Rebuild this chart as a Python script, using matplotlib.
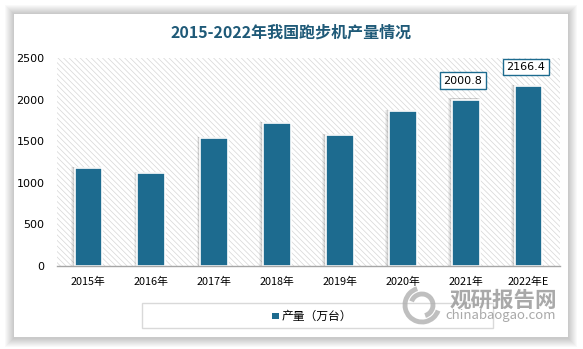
import matplotlib.pyplot as plt
from matplotlib.patches import Rectangle, Arc
import numpy as np

plt.rcParams['font.family'] = ['Noto Sans CJK SC', 'DejaVu Sans']
plt.rcParams['hatch.linewidth'] = 0.5

# Data.
years = ['2015年', '2016年', '2017年', '2018年', '2019年', '2020年', '2021年', '2022年E']
output = [1174, 1114, 1535, 1715, 1571, 1867, 2000.8, 2166.4]
labelled = [6, 7]
yticks = [0, 500, 1000, 1500, 2000, 2500]

W, H = 583, 349
barColor = '#1d6b8f'
titleColor = '#1f5a78'

fig = plt.figure(figsize=(W / 100, H / 100), dpi=100)
fig.patch.set_facecolor('white')

# Card with a soft shadow.
cx0, cy0, cx1, cy1 = 14, 14, 568, 337
for d in range(9, 0, -1):
    fig.patches.append(Rectangle(((cx0 - d) / W, 1 - (cy1 + d + 1) / H),
                                 (cx1 - cx0 + 2 * d) / W,
                                 (cy1 - cy0 + 2 * d + 1) / H,
                                 transform=fig.transFigure, facecolor='black',
                                 alpha=0.022, linewidth=0, zorder=-3))
fig.patches.append(Rectangle((cx0 / W, 1 - cy1 / H), (cx1 - cx0) / W,
                             (cy1 - cy0) / H, transform=fig.transFigure,
                             facecolor='white', linewidth=0, zorder=-2))

fig.text(291 / W, 1 - 33 / H, '2015-2022年我国跑步机产量情况', ha='center',
         va='center', fontsize=11.5, fontweight='bold', color=titleColor)

ax = fig.add_axes([57 / W, 1 - 266 / H, (560 - 57) / W, (266 - 58) / H])
ax.set_facecolor('none')
ax.add_patch(Rectangle((0, 0), 1, 1, transform=ax.transAxes, facecolor='white',
                       edgecolor='#d6d6d6', hatch='\\' * 6, linewidth=0,
                       zorder=0))

x = np.arange(len(years))
bw = 0.44
# Soft shadow behind bars.
for off, a in [(0.045, 0.05), (0.03, 0.06), (0.015, 0.07)]:
    ax.bar(x - off, np.array(output) + 14, width=bw + 0.03, color='black',
           alpha=a, linewidth=0, zorder=1)
ax.bar(x, output, width=bw, color=barColor, edgecolor='white', linewidth=1.2,
       zorder=2)

for i in labelled:
    ax.annotate(f'{output[i]:.1f}', (x[i], output[i]), xytext=(-2, 10),
                textcoords='offset points', ha='center', va='bottom',
                fontsize=8, family='DejaVu Sans', color='black',
                bbox=dict(boxstyle='square,pad=0.3', facecolor='white',
                          edgecolor=barColor, linewidth=1.0), zorder=5)

ax.set_xlim(-0.5, len(years) - 0.5)
ax.set_ylim(0, 2500)
ax.set_xticks(x)
ax.set_xticklabels(years, fontsize=7.8)
ax.set_yticks(yticks)
ax.set_yticklabels([str(v) for v in yticks], fontsize=8, family='DejaVu Sans')
ax.tick_params(length=0)
ax.tick_params(axis='x', pad=8)
ax.tick_params(axis='y', pad=9)
for s in ['top', 'right', 'left']:
    ax.spines[s].set_visible(False)
ax.spines['bottom'].set_color('#a6a6a6')
ax.spines['bottom'].set_linewidth(1.0)
ax.spines['bottom'].set_zorder(3)

# Legend box.
fig.patches.append(Rectangle((142 / W, 1 - 328 / H), (493 - 142) / W, 25 / H,
                             transform=fig.transFigure, facecolor='white',
                             edgecolor='#d9d9d9', linewidth=1.0, zorder=1))
fig.patches.append(Rectangle((272 / W, 1 - 319 / H), 6.5 / W, 6.5 / H,
                             transform=fig.transFigure, facecolor=barColor,
                             linewidth=0, zorder=2))
fig.text(282 / W, 1 - 316 / H, '产量（万台）', ha='left', va='center',
         fontsize=8.5, color='black', zorder=3)

# Watermark.
for r, t1, t2 in [(34, 100, 330), (22, 280, 150)]:
    fig.patches.append(Arc((422 / W, 1 - 305 / H), r / W, r / H, theta1=t1,
                           theta2=t2, transform=fig.transFigure,
                           color='#b0b0b0', linewidth=3.5, alpha=0.8, zorder=4))
fig.text(503 / W, 1 - 300 / H, '观研报告网', ha='center', va='center',
         fontsize=15.5, fontweight='bold', color='#9a9a9a', alpha=0.85, zorder=4)
fig.text(501 / W, 1 - 316 / H, 'chinabaogao.com', ha='center', va='center',
         fontsize=9.5, color='#9a9a9a', alpha=0.85, zorder=4)

fig.savefig('out.png', dpi=100)
